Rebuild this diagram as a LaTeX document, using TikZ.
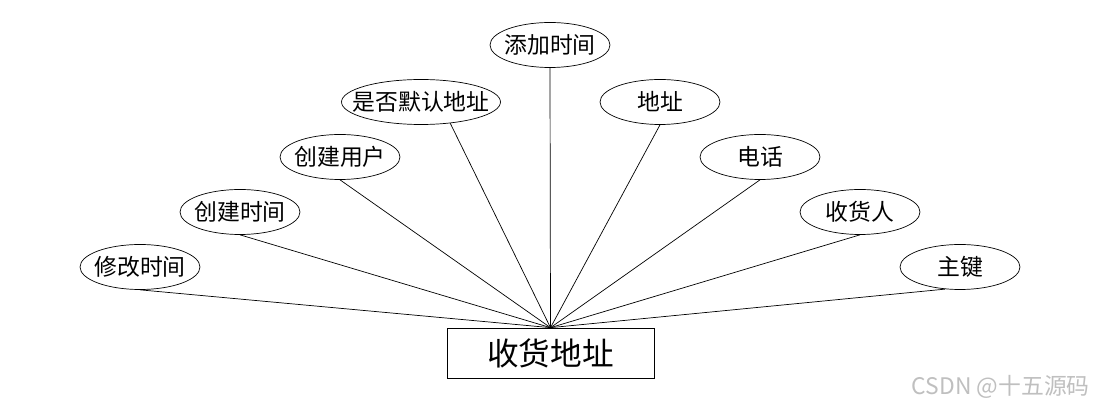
\documentclass[tikz,border=0pt]{standalone}
\usepackage{fontspec}
\setmainfont{Noto Sans CJK SC}
\usetikzlibrary{shapes.geometric}

\begin{document}
\begin{tikzpicture}[x=0.02cm, y=-0.02cm, every node/.style={font=\fontsize{13}{15}\selectfont},
    attr/.style={draw, ellipse, minimum width=2.4cm, minimum height=0.9cm, inner xsep=-1.5cm, inner ysep=0pt},
    entity/.style={draw, rectangle, minimum width=4.14cm, minimum height=1cm, font=\fontsize{18}{20}\selectfont}]
                \useasboundingbox (0,0) rectangle (1100,408);

                \node[entity] (addr) at (550.5,353) {收货地址};

                \node[attr] (tjsj) at (550,45) {添加时间};
                \node[attr, minimum width=3.18cm] (sfmr) at (421,102) {是否默认地址};
                \node[attr] (dz) at (660,102) {地址};
                \node[attr] (cjyh) at (340,157) {创建用户};
                \node[attr] (dh) at (760,157) {电话};
                \node[attr] (cjsj) at (240,212) {创建时间};
                \node[attr] (shr) at (860,212) {收货人};
                \node[attr] (xgsj) at (140,267) {修改时间};
                \node[attr] (zj) at (960,267) {主键};

                \draw (tjsj.south) -- (addr.north);
                \draw (sfmr.-36) -- (addr.north);
                \draw (dz.south) -- (addr.north);
                \draw (cjyh.south) -- (addr.north);
                \draw (dh.south) -- (addr.north);
                \draw (cjsj.south) -- (addr.north);
                \draw (shr.south) -- (addr.north);
                \draw (xgsj.south) -- (addr.north);
                \draw (zj.-124) -- (addr.north);

                % watermark
                \node[anchor=east, text=black!25] (mark) at (1096,387) {CSDN @十五源码};
\end{tikzpicture}
\end{document}
